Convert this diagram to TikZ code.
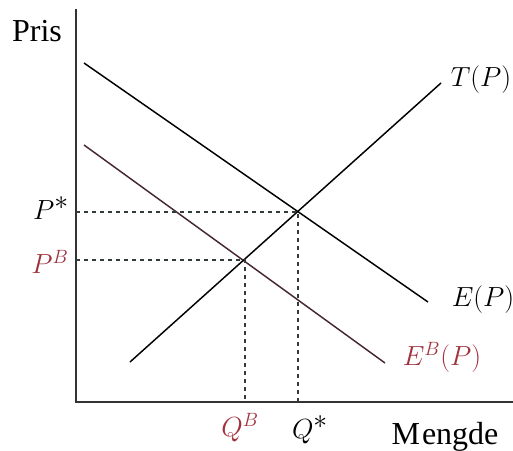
\documentclass[tikz,border=0pt]{standalone}
\usepackage{fontspec}
\setmainfont{Liberation Serif}
\definecolor{bred}{RGB}{160,50,62}
\definecolor{bline}{RGB}{70,40,50}
\definecolor{dotc}{RGB}{50,60,60}
\begin{document}
\begin{tikzpicture}[x=0.75pt,y=-0.75pt,
  axis/.style={line width=1.5pt,draw=black!80},
  curve/.style={line width=1.1pt},
  guide/.style={line width=1.1pt,draw=dotc,dash pattern=on 3pt off 3pt},
  word/.style={font=\fontsize{24}{28}\selectfont,inner sep=0pt},
  lab/.style={font=\fontsize{21}{25}\selectfont,inner sep=0pt}]
\useasboundingbox (0,0) rectangle (513,450);
% axes
\coordinate (o) at (76,402);
\coordinate (ytop) at (76,9);
\coordinate (xend) at (513,402);
\draw[axis] (ytop) -- (o) -- (xend);
% lines
\coordinate (e1) at (84,63);
\coordinate (e2) at (428,302);
\coordinate (b1) at (84,145);
\coordinate (b2) at (385,363);
\coordinate (t1) at (130,362);
\coordinate (t2) at (441,83);
\draw[curve] (e1) -- (e2);
\draw[curve,draw=bline] (b1) -- (b2);
\draw[curve] (t1) -- (t2);
% equilibrium points
\coordinate (s) at (298,212);
\coordinate (sb) at (245,260);
\coordinate (sy) at (76,212);
\coordinate (sx) at (298,402);
\coordinate (sby) at (76,260);
\coordinate (sbx) at (245,402);
\draw[guide] (sy) -- (s) -- (sx);
\draw[guide] (sby) -- (sb) -- (sbx);
% labels
\node[word] (pris) at (37,31) {Pris};
\node[word] (mengde) at (445,437) {M\kern1.5pt engde};
\node[lab] (tp) at (481,80) {$T(P)$};
\node[lab] (ep) at (483,300) {$E(P)$};
\node[lab,text=bred] (ebp) at (442,357) {$E^B(P)$};
\node[lab] (ps) at (51,208) {$P^{\textstyle\ast}$};
\node[lab,text=bred] (pb) at (50,262) {$P^B$};
\node[lab,text=bred] (qb) at (240,428) {$Q^B$};
\node[lab] (qs) at (310,430) {$Q^{\textstyle\ast}$};
\end{tikzpicture}
\end{document}
